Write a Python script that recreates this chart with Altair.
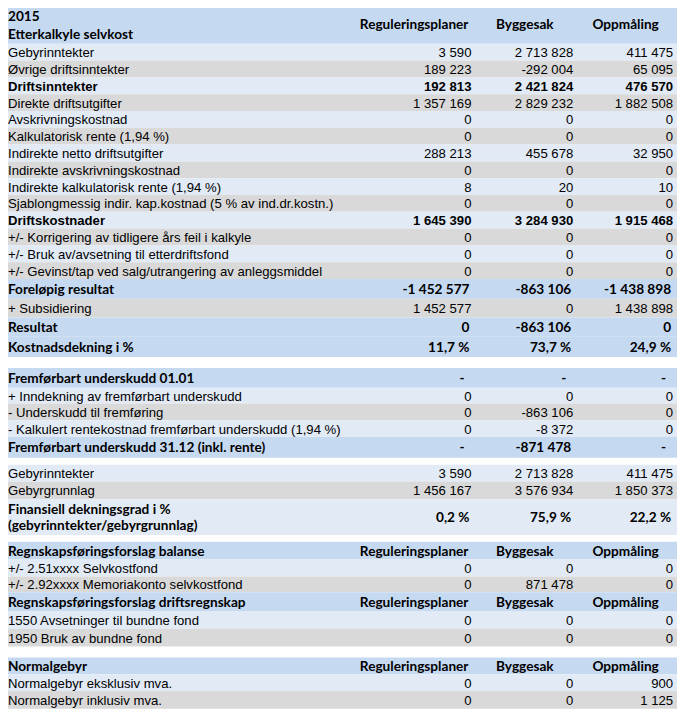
import altair as alt
import pandas as pd

# ---------------- data ----------------
year = "2015"
table_title = "Etterkalkyle selvkost"
columns = ["Reguleringsplaner", "Byggesak", "Oppmåling"]

labels = [
    "Gebyrinntekter", "Øvrige driftsinntekter", "Driftsinntekter", "Direkte driftsutgifter",
    "Avskrivningskostnad", "Kalkulatorisk rente (1,94 %)", "Indirekte netto driftsutgifter",
    "Indirekte avskrivningskostnad", "Indirekte kalkulatorisk rente (1,94 %)",
    "Sjablongmessig indir. kap.kostnad (5 % av ind.dr.kostn.)", "Driftskostnader",
    "+/- Korrigering av tidligere års feil i kalkyle", "+/- Bruk av/avsetning til etterdriftsfond",
    "+/- Gevinst/tap ved salg/utrangering av anleggsmiddel", "Foreløpig resultat", "+ Subsidiering",
    "Resultat", "Kostnadsdekning i %", "",
    "Fremførbart underskudd 01.01", "+ Inndekning av fremførbart underskudd",
    "- Underskudd til fremføring", "- Kalkulert rentekostnad fremførbart underskudd (1,94 %)",
    "Fremførbart underskudd 31.12 (inkl. rente)", "",
    "Gebyrinntekter", "Gebyrgrunnlag", "Finansiell dekningsgrad i %\n(gebyrinntekter/gebyrgrunnlag)", "",
    "Regnskapsføringsforslag balanse", "+/- 2.51xxxx Selvkostfond", "+/- 2.92xxxx Memoriakonto selvkostfond",
    "Regnskapsføringsforslag driftsregnskap", "1550 Avsetninger til bundne fond", "1950 Bruk av bundne fond", "",
    "Normalgebyr", "Normalgebyr eksklusiv mva.", "Normalgebyr inklusiv mva.",
]
reguleringsplaner = [
    "3 590", "189 223", "192 813", "1 357 169", "0", "0", "288 213", "0", "8", "0", "1 645 390",
    "0", "0", "0", "-1 452 577", "1 452 577", "0", "11,7 %", "",
    "-", "0", "0", "0", "-", "",
    "3 590", "1 456 167", "0,2 %", "",
    "", "0", "0", "", "0", "0", "",
    "", "0", "0",
]
byggesak = [
    "2 713 828", "-292 004", "2 421 824", "2 829 232", "0", "0", "455 678", "0", "20", "0", "3 284 930",
    "0", "0", "0", "-863 106", "0", "-863 106", "73,7 %", "",
    "-", "0", "-863 106", "-8 372", "-871 478", "",
    "2 713 828", "3 576 934", "75,9 %", "",
    "", "0", "871 478", "", "0", "0", "",
    "", "0", "0",
]
oppmaling = [
    "411 475", "65 095", "476 570", "1 882 508", "0", "0", "32 950", "0", "10", "0", "1 915 468",
    "0", "0", "0", "-1 438 898", "1 438 898", "0", "24,9 %", "",
    "-", "0", "0", "0", "-", "",
    "411 475", "1 850 373", "22,2 %", "",
    "", "0", "0", "", "0", "0", "",
    "", "900", "1 125",
]

# ---------------- style / layout ----------------
kinds = [
    "light", "gray", "light", "gray", "light", "gray", "light", "gray", "light", "gray", "light",
    "gray", "light", "gray", "blue", "gray", "blue", "blue", "gap",
    "blue", "light", "gray", "light", "blue", "gap",
    "light", "gray", "light", "gap",
    "head", "light", "gray", "head", "light", "gray", "gap",
    "head", "light", "gray",
]
fonts = [
    "r", "r", "b", "r", "r", "r", "r", "r", "r", "r", "b",
    "r", "r", "r", "c", "r", "c", "c", "r",
    "c", "r", "r", "r", "c", "r",
    "r", "r", "c", "r",
    "c", "r", "r", "c", "r", "r", "r",
    "c", "r", "r",
]
heights = [
    17, 17, 17, 17, 17, 17, 17, 17, 17, 17, 17,
    17, 17, 17, 20, 19, 19, 21, 11,
    20, 16, 17, 17, 21, 7,
    17, 18, 36, 7,
    18, 17, 16, 19, 18, 18, 11,
    17, 17, 18,
]
HEADER_H = 40
LABEL_X = 8
RIGHT_EDGES = [477, 580, 681]
HEAD_CENTERS = [419, 531, 633]
W, H = 677, 705
ARIAL_SIZE = 13.3
CALIBRI_SIZE = 13.8

band_recs = [dict(x0=0, x1=685, y0=0, y1=HEADER_H, kind="blue")]
label_recs = [
    dict(x=LABEL_X, y=17, text=year, font="c"),
    dict(x=LABEL_X, y=35, text=table_title, font="c"),
]
head_recs = [dict(x=cx, y=25.5, text=n) for cx, n in zip(HEAD_CENTERS, columns)]
value_recs = []

top = HEADER_H
for lab, a, b, c, kind, font, h in zip(labels, reguleringsplaner, byggesak, oppmaling, kinds, fonts, heights):
    y0, y1 = top, top + h
    top = y1
    if kind == "gap":
        continue
    band_recs.append(dict(x0=0, x1=685, y0=y0, y1=y1, kind=kind))
    mid = (y0 + y1) / 2
    lines = lab.split("\n")
    for i, ln in enumerate(lines):
        label_recs.append(dict(x=LABEL_X, y=mid + (i - (len(lines) - 1) / 2) * 17 + 5, text=ln, font=font))
    if kind == "head":
        for cx, n in zip(HEAD_CENTERS, columns):
            head_recs.append(dict(x=cx, y=mid + 5, text=n))
    else:
        for edge, v in zip(RIGHT_EDGES, (a, b, c)):
            off = 7 if v == "-" else (2 if font == "c" else 0)
            value_recs.append(dict(x=edge - off, y=mid + 5, text=v, font=font))

bands = pd.DataFrame(band_recs)
lab_df = pd.DataFrame(label_recs)
head_df = pd.DataFrame(head_recs)
val_df = pd.DataFrame(value_recs)

xs = alt.Scale(domain=[8, 685], range=[0, W], nice=False, zero=False)
ys = alt.Scale(domain=[8, 713], range=[0, H], nice=False, zero=False)

rect = alt.Chart(bands).mark_rect(strokeWidth=0).encode(
    x=alt.X("x0:Q", scale=xs, axis=None),
    x2="x1:Q",
    y=alt.Y("y0:Q", scale=ys, axis=None),
    y2="y1:Q",
    color=alt.Color("kind:N", legend=None,
                    scale=alt.Scale(domain=["blue", "head", "light", "gray"],
                                    range=["#C5D9F1", "#C5D9F1", "#E1EAF5", "#D9D9D9"])),
)

def text_layer(df, font_code, align):
    if font_code == "r":
        props = dict(font="Liberation Sans", fontSize=ARIAL_SIZE, fontWeight="normal")
    elif font_code == "b":
        props = dict(font="Liberation Sans", fontSize=ARIAL_SIZE, fontWeight="bold")
    else:
        props = dict(font="Lato", fontSize=CALIBRI_SIZE, fontWeight="bold")
    return alt.Chart(df).transform_filter(alt.datum.font == font_code).mark_text(
        align=align, baseline="alphabetic", color="#000000", **props
    ).encode(
        x=alt.X("x:Q", scale=xs, axis=None),
        y=alt.Y("y:Q", scale=ys, axis=None),
        text="text:N",
    )

layers = [rect]
for f in ["r", "b", "c"]:
    layers.append(text_layer(lab_df, f, "left"))
    layers.append(text_layer(val_df, f, "right"))

heads = alt.Chart(head_df).mark_text(
    align="center", baseline="alphabetic", font="Lato", fontSize=CALIBRI_SIZE, fontWeight="bold",
    color="#000000"
).encode(
    x=alt.X("x:Q", scale=xs, axis=None),
    y=alt.Y("y:Q", scale=ys, axis=None),
    text="text:N",
)
layers.append(heads)

chart = alt.layer(*layers).properties(
    width=W, height=H, padding=0, autosize=alt.AutoSizeParams(type="none"), background="white"
).configure_view(stroke=None)

chart.save("out.html", embed_options={"renderer": "svg", "actions": False})
